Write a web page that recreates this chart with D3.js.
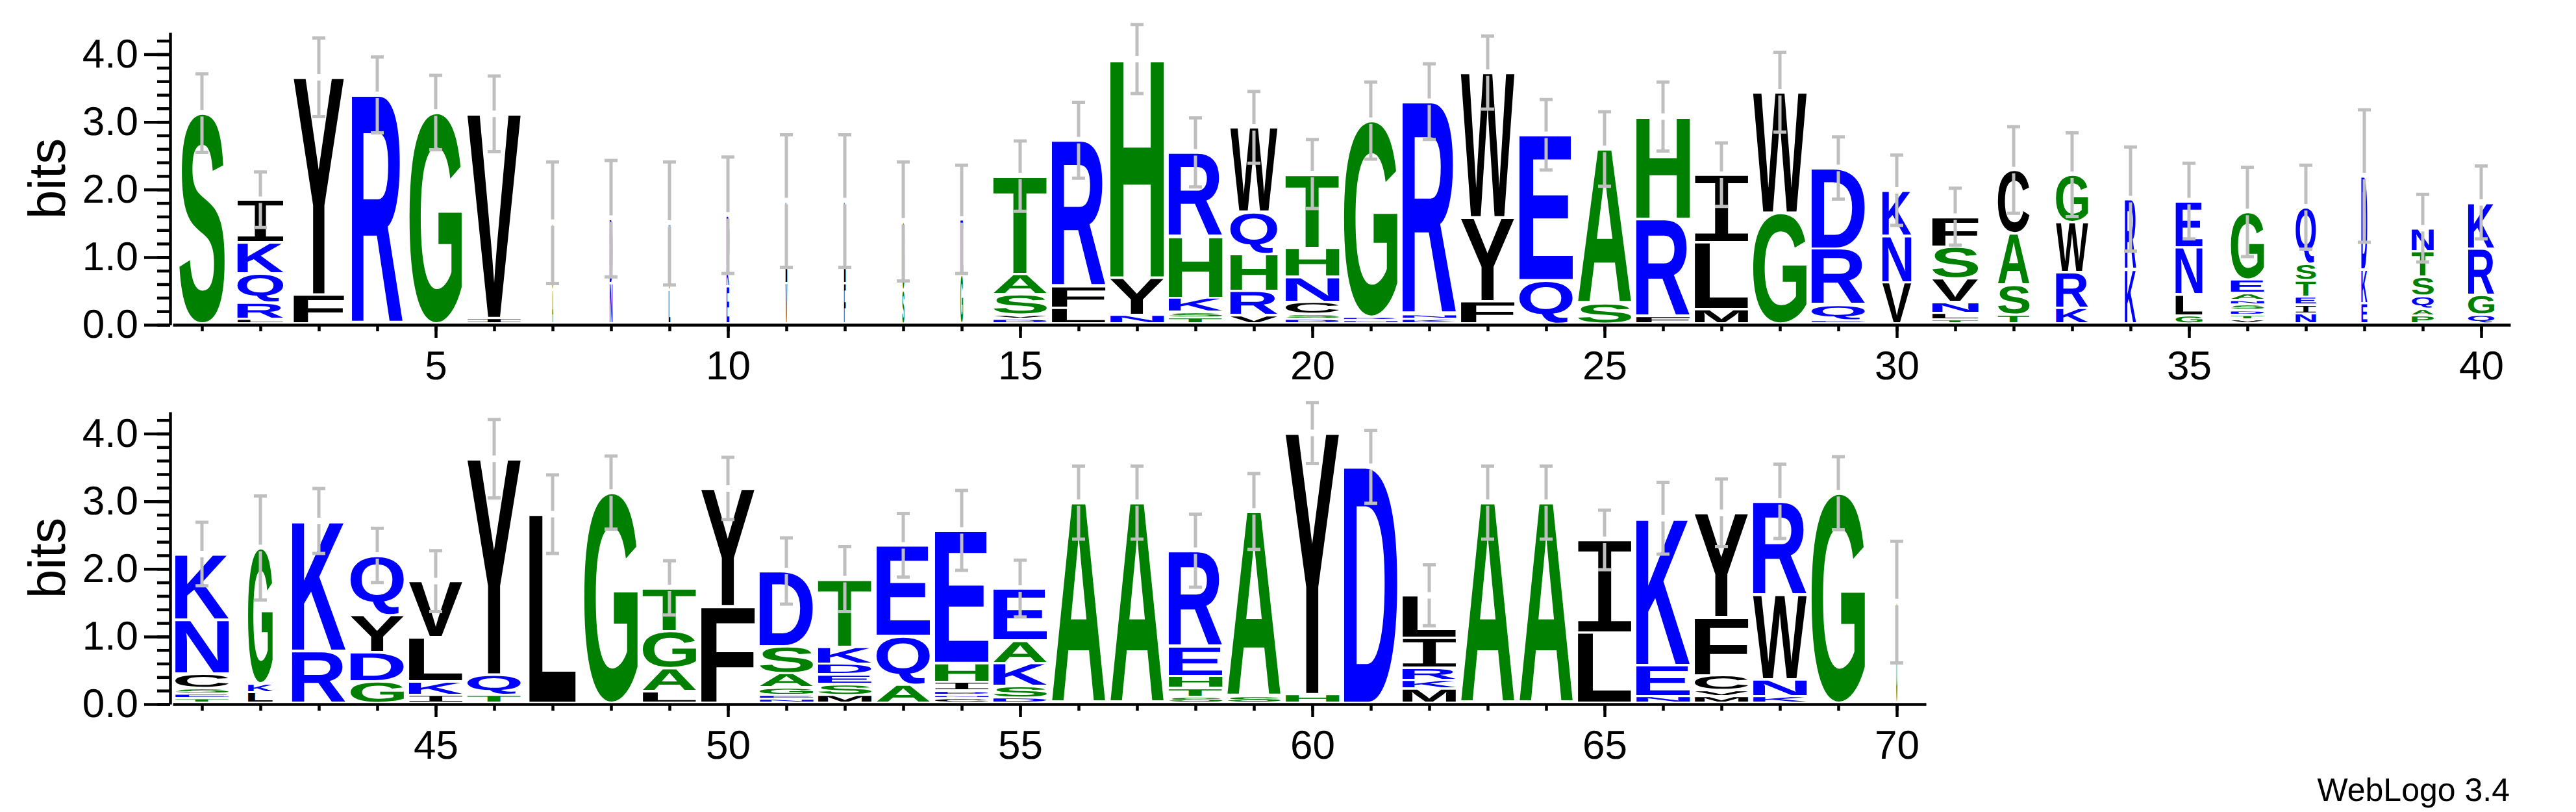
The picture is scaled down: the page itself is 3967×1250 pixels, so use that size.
<!DOCTYPE html>
<html>
<head>
<meta charset="utf-8">
<script src="https://cdn.jsdelivr.net/npm/d3@7"></script>
<style>
  body { margin: 0; background: #fff; }
  svg { display: block; text-rendering: geometricPrecision; }
</style>
</head>
<body>
<div class="chart"></div>
<script>
var svgWidth = 3967;
var svgHeight = 1250;

// one stack per position, bottom letter first: [residue, bits]
var stacks = [
  [["S",3.11]],
  [["L",0.07],["R",0.24],["Q",0.43],["K",0.46],["I",0.63]],
  [["F",0.43],["Y",3.21]],
  [["R",3.38]],
  [["G",3.12]],
  [["I",0.08],["V",3.02]],
  [["A",0.5],["G",0.99]],
  [["N",0.6],["D",0.95]],
  [["L",0.5],["V",0.98]],
  [["E",0.55],["K",0.3],["D",0.75]],
  [["V",0.6],["L",1.21]],
  [["F",0.6],["L",1.21]],
  [["S",0.5],["G",1.01]],
  [["G",0.72],["E",0.82]],
  [["D",0.07],["V",0.06],["S",0.30],["A",0.30],["T",1.45]],
  [["L",0.23],["F",0.32],["R",2.16]],
  [["N",0.13],["Y",0.55],["H",3.23]],
  [["T",0.09],["S",0.08],["K",0.21],["H",0.91],["R",1.24]],
  [["V",0.12],["R",0.36],["H",0.55],["Q",0.62],["W",1.25]],
  [["D",0.07],["S",0.07],["C",0.18],["N",0.37],["H",0.43],["T",1.09]],
  [["N",0.05],["R",0.05],["G",2.90]],
  [["K",0.07],["N",0.07],["R",3.14]],
  [["F",0.33],["Y",1.24],["W",2.14]],
  [["Q",0.64],["E",2.15]],
  [["S",0.30],["A",2.28]],
  [["F",0.11],["R",1.44],["H",1.51]],
  [["M",0.21],["L",0.99],["I",1.00]],
  [["G",1.64],["W",1.78]],
  [["E",0.05],["Q",0.23],["R",0.83],["D",1.19]],
  [["V",0.61],["N",0.69],["K",0.67]],
  [["T",0.06],["L",0.10],["N",0.16],["V",0.35],["S",0.47],["F",0.44]],
  [["T",0.13],["S",0.44],["A",0.76],["C",0.94]],
  [["K",0.23],["R",0.53],["W",0.74],["G",0.70]],
  [["K",0.80],["R",1.04]],
  [["G",0.12],["L",0.31],["N",0.70],["E",0.68]],
  [["V",0.06],["T",0.07],["D",0.07],["S",0.08],["N",0.07],["A",0.10],["E",0.20],["G",1.00]],
  [["N",0.15],["I",0.13],["E",0.12],["T",0.24],["S",0.24],["Q",0.84]],
  [["E",0.30],["K",0.50],["D",1.38]],
  [["P",0.12],["A",0.10],["Q",0.19],["S",0.28],["T",0.38],["N",0.34]],
  [["Q",0.13],["G",0.29],["R",0.69],["K",0.68]],
  [["T",0.07],["E",0.07],["S",0.08],["C",0.21],["N",0.80],["K",0.97]],
  [["L",0.16],["K",0.13],["G",2.00]],
  [["R",0.77],["K",1.92]],
  [["G",0.32],["D",0.43],["Y",0.55],["Q",0.88]],
  [["I",0.12],["K",0.20],["L",0.65],["V",0.83]],
  [["T",0.12],["Q",0.30],["Y",3.19]],
  [["L",2.79]],
  [["G",3.11]],
  [["L",0.17],["A",0.34],["G",0.55],["T",0.64]],
  [["F",1.43],["Y",1.74]],
  [["N",0.06],["E",0.06],["G",0.11],["A",0.21],["S",0.40],["D",1.11]],
  [["M",0.12],["S",0.16],["E",0.14],["D",0.16],["K",0.25],["T",1.00]],
  [["A",0.27],["Q",0.72],["E",1.34]],
  [["C",0.07],["N",0.05],["D",0.06],["I",0.13],["H",0.28],["E",1.96]],
  [["D",0.08],["S",0.17],["K",0.34],["A",0.33],["E",0.77]],
  [["A",2.96]],
  [["A",2.96]],
  [["S",0.09],["T",0.13],["H",0.18],["E",0.44],["R",1.41]],
  [["S",0.10],["A",2.73]],
  [["H",0.13],["Y",3.86]],
  [["D",3.49]],
  [["M",0.21],["K",0.13],["R",0.18],["I",0.44],["L",0.63]],
  [["A",2.96]],
  [["A",2.96]],
  [["L",1.04],["I",1.37]],
  [["N",0.10],["E",0.46],["K",2.17]],
  [["M",0.10],["V",0.09],["C",0.22],["F",0.86],["Y",1.54]],
  [["K",0.10],["N",0.25],["W",1.25],["R",1.38]],
  [["G",3.10]],
  [["G",1.49]]
];

// half length of each error bar, bits
var errHalf = [
  0.58,0.41,0.58,0.56,0.55,0.56,0.90,0.86,0.91,0.86,
  0.98,0.98,0.88,0.80,0.52,0.56,0.51,0.51,0.53,0.51,
  0.57,0.56,0.54,0.52,0.55,0.51,0.47,0.59,0.46,0.52,
  0.42,0.64,0.62,0.77,0.56,0.66,0.62,0.98,0.50,0.54,
  0.47,0.77,0.48,0.40,0.45,0.58,0.58,0.54,0.40,0.46,
  0.49,0.48,0.47,0.59,0.42,0.54,0.54,0.54,0.56,0.45,
  0.54,0.45,0.54,0.54,0.44,0.53,0.50,0.55,0.54,0.90
];

// stack width as a fraction of a full column (occupancy)
var occupancy = [
  0.85,0.86,0.94,0.95,0.98,1,0.02,0.05,0.03,0.05,
  0.03,0.03,0.04,0.05,1,1,1,1,0.88,1,
  1,1,1,1,1,1,1,1,1,0.54,
  0.86,0.59,0.60,0.21,0.50,0.62,0.38,0.11,0.41,0.49,
  1,0.46,1,1,1,1,0.87,1,1,1,
  1,1,1,1,1,1,1,1,1,1,
  1,1,1,1,1,1,1,1,1,0.02
];

var rowFirst = [1, 41];
var rowLast = [40, 70];
var yMajorTicks = [0, 1, 2, 3, 4];
var yLabel = "bits";
var footer = "WebLogo 3.4";

// hydrophobicity colour scheme
var colour = {};
"RKDENQ".split("").forEach(function(c) { colour[c] = "#0000ff"; });
"SGHTAP".split("").forEach(function(c) { colour[c] = "#008000"; });
"YVMCLFIW".split("").forEach(function(c) { colour[c] = "#000000"; });

var rowBase = [500, 1084];
var plotHeight = 450;
var left = 266;
var colWidth = 90;
var fullStack = 82.5;
var lift = 2;
var pad = 1.8;
var axisFont = "'Liberation Sans', Arial, sans-serif";

var svg = d3.select(".chart")
  .append("svg")
  .attr("width", svgWidth)
  .attr("height", svgHeight);

svg.append("rect").attr("width", svgWidth).attr("height", svgHeight).attr("fill", "#fff");

// measure ink extents of each glyph so it can be stretched to its cell
var ctx = document.createElement("canvas").getContext("2d");
var inkCache = {};
function glyphFamily(ch) { return ch === "I" ? "'DejaVu Sans Mono'" : "'Liberation Sans'"; }
function glyphWeight(ch) { return ch === "I" ? "normal" : "bold"; }
function inkBox(ch) {
  if (inkCache[ch]) return inkCache[ch];
  ctx.font = glyphWeight(ch) + " 200px " + glyphFamily(ch);
  var m = ctx.measureText(ch);
  inkCache[ch] = {
    x0: -m.actualBoundingBoxLeft, x1: m.actualBoundingBoxRight,
    y0: -m.actualBoundingBoxAscent, y1: m.actualBoundingBoxDescent
  };
  return inkCache[ch];
}

rowFirst.forEach(function(first, r) {
  var last = rowLast[r];
  var base = rowBase[r];
  var positions = d3.range(first, last + 1);

  var x = d3.scaleLinear()
    .domain([first - 0.5, last + 0.5])
    .range([left, left + colWidth * positions.length]);
  var y = d3.scaleLinear()
    .domain([0, Math.log2(20)])
    .range([base, base - plotHeight]);

  var g = svg.append("g");

  // y axis: minor ticks, then labelled major ticks
  var yAxisX = left - 4;
  g.append("g")
    .attr("transform", `translate(${yAxisX},0)`)
    .call(d3.axisLeft(y).tickValues(d3.range(0, 4.3, 0.2)).tickSize(20).tickSizeOuter(0).tickFormat(""))
    .call(function(a) { a.select(".domain").remove(); });
  var yAxis = g.append("g")
    .attr("transform", `translate(${yAxisX},0)`)
    .call(d3.axisLeft(y).tickValues(yMajorTicks).tickSize(40).tickSizeOuter(0).tickPadding(9).tickFormat(d3.format(".1f")));

  // x axis
  g.append("g")
    .attr("transform", `translate(0,${base})`)
    .call(d3.axisBottom(x).tickValues(positions).tickSize(10).tickSizeOuter(0).tickFormat(""));
  g.append("g")
    .attr("transform", `translate(0,${base})`)
    .call(d3.axisBottom(x).tickValues(positions.filter(function(p) { return p % 5 === 0; }))
      .tickSize(20).tickSizeOuter(0).tickPadding(20).tickFormat(d3.format("d")))
    .call(function(a) { a.select(".domain").remove(); });

  g.selectAll("line, path").attr("stroke", "#000").attr("stroke-width", 4.5);
  g.selectAll("text")
    .attr("font-family", axisFont)
    .attr("font-size", 62)
    .attr("fill", "#000");

  g.append("text")
    .attr("transform", `translate(100,${base - plotHeight / 2}) rotate(-90)`)
    .attr("text-anchor", "middle")
    .attr("font-family", axisFont)
    .attr("font-size", 80)
    .text(yLabel);

  // letters
  var glyphs = [];
  var bars = [];
  positions.forEach(function(pos) {
    var w = fullStack * occupancy[pos - 1];
    var cum = 0;
    stacks[pos - 1].forEach(function(d) {
      glyphs.push({ch: d[0], x0: x(pos) - w / 2, w: w,
        top: y(cum + d[1]) - lift, bottom: y(cum) - lift});
      cum += d[1];
    });
    bars.push({cx: x(pos), total: cum, err: errHalf[pos - 1]});
  });

  g.selectAll("text.glyph")
    .data(glyphs)
    .join("text")
    .attr("class", "glyph")
    .attr("font-family", function(d) { return glyphFamily(d.ch); })
    .attr("font-weight", function(d) { return glyphWeight(d.ch); })
    .attr("font-size", 200)
    .attr("fill", function(d) { return colour[d.ch]; })
    .attr("transform", function(d) {
      var b = inkBox(d.ch);
      var cell = d.bottom - d.top;
      var h = Math.max(cell - 2 * pad, 0.6);
      var yTop = d.top + (cell - h) / 2;
      return `translate(${d.x0},${yTop}) scale(${d.w / (b.x1 - b.x0)},${h / (b.y1 - b.y0)}) translate(${-b.x0},${-b.y0})`;
    })
    .text(function(d) { return d.ch; });

  // error bars
  g.selectAll("path.errbar")
    .data(bars)
    .join("path")
    .attr("class", "errbar")
    .attr("fill", "none")
    .attr("stroke", "#bfbfbf")
    .attr("stroke-width", 5)
    .attr("d", function(d) {
      var yc = y(d.total) - lift;
      var yt = y(d.total + d.err) - lift;
      var yb = y(d.total - d.err) - lift;
      var p = d3.path();
      p.moveTo(d.cx, yt); p.lineTo(d.cx, yc - 5);
      p.moveTo(d.cx, yc + 5); p.lineTo(d.cx, yb);
      p.moveTo(d.cx - 10, yt); p.lineTo(d.cx + 10, yt);
      p.moveTo(d.cx - 10, yb); p.lineTo(d.cx + 10, yb);
      return p.toString();
    });
});

svg.append("text")
  .attr("x", 3865)
  .attr("y", 1233)
  .attr("text-anchor", "end")
  .attr("font-family", axisFont)
  .attr("font-size", 50)
  .text(footer);
</script>
</body>
</html>
